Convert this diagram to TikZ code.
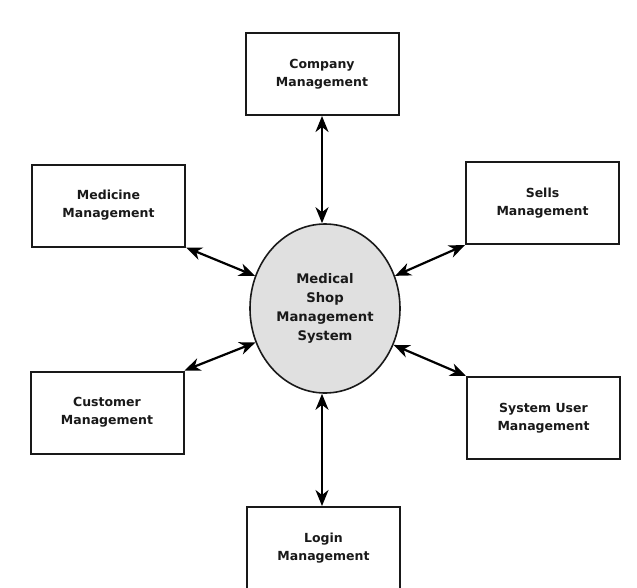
\documentclass[tikz,border=0pt]{standalone}
\usepackage{fontspec}
\setmainfont{DejaVu Sans}
\usetikzlibrary{arrows.meta,shapes.geometric}
\begin{document}
\begin{tikzpicture}[x=1pt,y=-1pt,
  mbox/.style={draw=black!90,line width=2pt,fill=white,minimum width=153pt,minimum height=82pt,
    align=center,font=\fontsize{12.5}{18}\selectfont\bfseries,text=black!90,inner sep=0pt},
  hub/.style={ellipse,draw=black!90,line width=1.6pt,fill=black!12,minimum width=150pt,minimum height=169pt,
    align=center,font=\fontsize{13.2}{19}\selectfont\bfseries,text=black!90,inner sep=0pt},
  link/.style={line width=2.2pt,draw=black,{Stealth[length=16pt,width=13pt,inset=5pt]}-{Stealth[length=16pt,width=13pt,inset=5pt]}}]
\useasboundingbox[fill=white] (0,0) rectangle (637,587);
\begin{scope}
\clip (0,0) rectangle (637,587);
\node[hub] (sys) at (325,308.5) {Medical\\Shop\\Management\\System};
\node[mbox] (comp) at (322,74) {Company\\Management};
\node[mbox] (med) at (108.5,205.5) {Medicine\\Management};
\node[mbox] (sell) at (542.5,203) {Sells\\Management};
\node[mbox] (cust) at (107,412.5) {Customer\\Management};
\node[mbox] (user) at (543.5,418) {System User\\Management};
\node[mbox] (login) at (323.5,548) {Login\\Management};
\draw[link] (comp.south) -- (comp.south |- sys.north);
\draw[link] (med.south east) -- (sys.155);
\draw[link] (sell.south west) -- (sys.25);
\draw[link] (cust.north east) -- (sys.206);
\draw[link] (user.north west) -- (sys.-28);
\draw[link] (login.north -| comp.south) -- (comp.south |- sys.south);
\end{scope}
\end{tikzpicture}
\end{document}
